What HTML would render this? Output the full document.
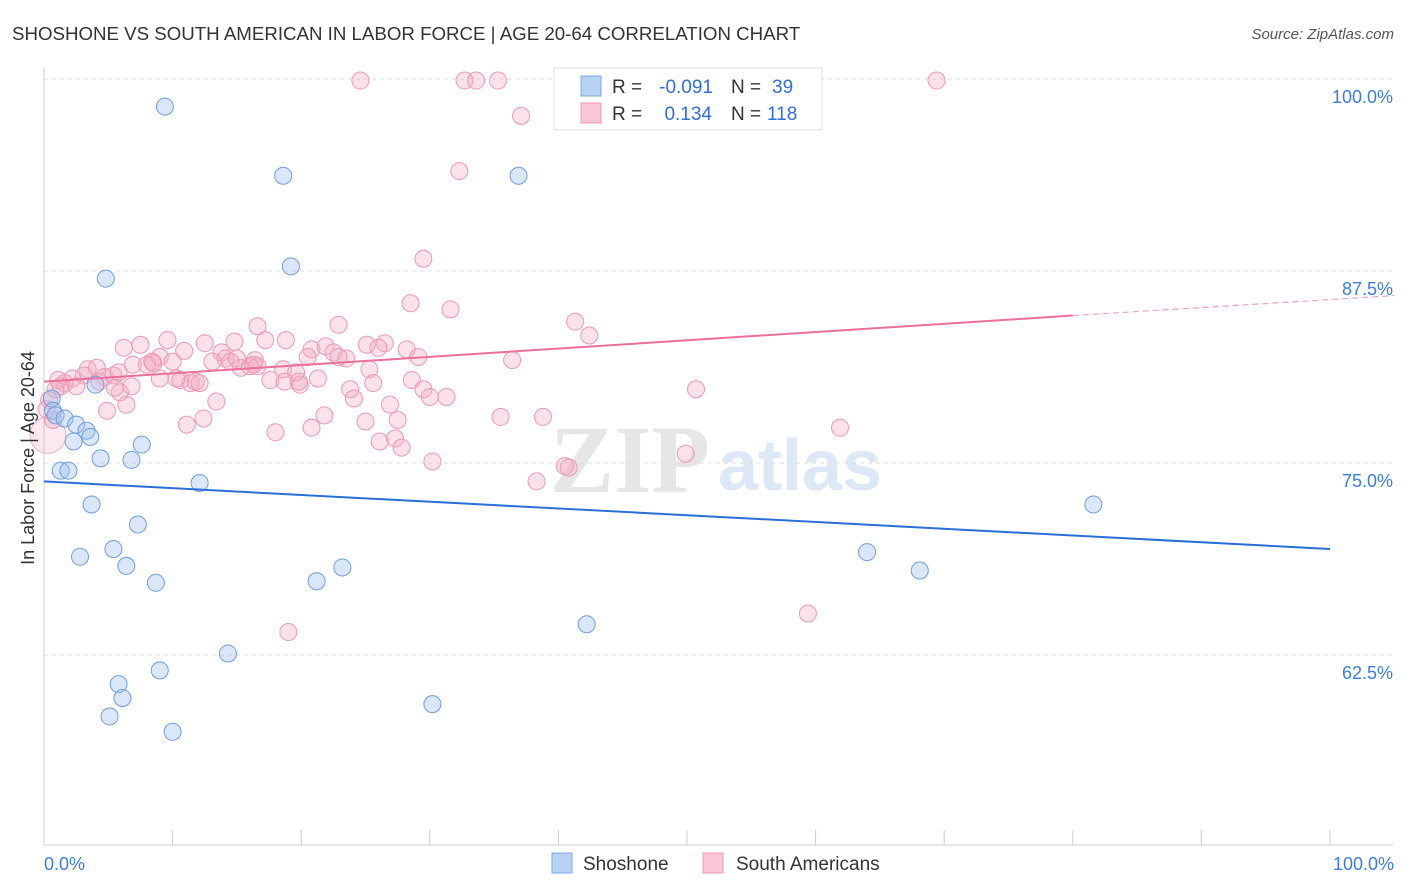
<!DOCTYPE html>
<html><head><meta charset="utf-8">
<style>
body{margin:0;background:#fff;font-family:"Liberation Sans",sans-serif;}
svg{display:block}
</style></head>
<body>
<svg width="1406" height="892" viewBox="0 0 1406 892">
<text x="12" y="40" font-size="18.7" fill="#333">SHOSHONE VS SOUTH AMERICAN IN LABOR FORCE | AGE 20-64 CORRELATION CHART</text>
<text x="1394" y="39" font-size="15" fill="#555" font-style="italic" text-anchor="end">Source: ZipAtlas.com</text>
<g>
<text x="550" y="492" font-size="96" font-family="Liberation Serif,serif" fill="#e6e6e6" font-weight="bold">ZIP</text>
<text x="718" y="490" font-size="72" fill="#dce8f6" font-weight="bold">atlas</text>
</g>
<g id="grid"></g>
<g id="axes"></g>
<g id="marks"></g>
<g id="lines"></g>
<text x="34" y="458" font-size="18" fill="#333" text-anchor="middle" transform="rotate(-90 34 458)">In Labor Force | Age 20-64</text>
<text x="44" y="870" font-size="18" fill="#3d7dd8">0.0%</text>
<text x="1394" y="870" font-size="18" fill="#3d7dd8" text-anchor="end">100.0%</text>
<g>
<rect x="554" y="68" width="268" height="62" fill="#fff" stroke="#ddd"/>
<rect x="581" y="76" width="20" height="20" fill="#b8d2f4" stroke="#7ea8e6"/>
<text x="612" y="93" font-size="19" fill="#333">R =</text>
<text x="713" y="93" font-size="19" fill="#2f6fd6" text-anchor="end">-0.091</text>
<text x="731" y="93" font-size="19" fill="#333">N =</text>
<text x="772" y="93" font-size="19" fill="#2f6fd6">39</text>
<rect x="581" y="103" width="20" height="20" fill="#f8c6d6" stroke="#ec9ab6"/>
<text x="612" y="120" font-size="19" fill="#333">R =</text>
<text x="712" y="120" font-size="19" fill="#2f6fd6" text-anchor="end">0.134</text>
<text x="731" y="120" font-size="19" fill="#333">N =</text>
<text x="767" y="120" font-size="19" fill="#2f6fd6">118</text>
</g>
<g>
<rect x="552" y="853" width="20" height="20" fill="#b8d2f4" stroke="#7ea8e6"/>
<text x="583" y="870" font-size="19" fill="#333">Shoshone</text>
<rect x="703" y="853" width="20" height="20" fill="#f8c6d6" stroke="#ec9ab6"/>
<text x="736" y="870" font-size="19" fill="#333">South Americans</text>
</g>
</svg>
<script>
const yTicks=[100,87.5,75,62.5];
const yTickLabels=["100.0%","87.5%","75.0%","62.5%"];
const xTicks=[0,10,20,30,40,50,60,70,80,90,100];
const blueX=[9.4,18.6,36.9,19.2,4.8,0.6,0.7,0.9,1.6,2.5,3.3,3.6,2.3,4.0,1.3,1.9,4.4,6.8,7.6,12.1,3.7,7.3,2.8,5.4,6.4,8.7,21.2,23.2,64.0,68.1,81.6,42.2,14.3,9.0,5.8,6.1,5.1,10.0,30.2];
const blueY=[98.2,93.7,93.7,87.8,87.0,79.2,78.4,78.1,77.9,77.5,77.1,76.7,76.4,80.1,74.5,74.5,75.3,75.2,76.2,73.7,72.3,71.0,68.9,69.4,68.3,67.2,67.3,68.2,69.2,68.0,72.3,64.5,62.6,61.5,60.6,59.7,58.5,57.5,59.3];
const pinkX=[24.6,32.7,33.6,35.3,69.4,37.1,32.3,29.5,28.5,31.6,41.3,42.4,22.9,16.6,18.8,9.6,6.2,7.5,12.5,14.8,17.2,20.8,21.9,22.5,23.5,25.1,26.5,26.0,28.2,29.1,36.4,13.8,14.1,10.9,9.0,8.4,8.0,16.4,16.6,15.3,16.0,14.5,18.6,17.6,18.7,19.9,21.3,19.6,20.5,25.3,25.6,23.8,24.1,28.6,29.5,30.0,31.3,26.9,21.8,27.5,25.0,20.8,18.0,11.1,12.4,13.4,6.4,4.9,26.1,27.3,27.8,35.5,38.8,50.7,61.9,30.2,38.3,40.5,40.8,49.9,59.4,19.0,4.1,3.4,3.1,2.2,1.6,1.3,1.1,0.9,0.4,0.2,2.5,4.7,4.3,5.4,5.8,6.8,6.9,8.5,10.0,10.6,11.4,11.8,12.1,10.3,9.0,0.7,5.9,5.5,13.1,15.0,16.3,22.9,19.8];
const pinkY=[99.9,99.9,99.9,99.9,99.9,97.6,94.0,88.3,85.4,85.0,84.2,83.3,84.0,83.9,83.0,83.0,82.5,82.7,82.8,82.9,83.0,82.4,82.6,82.2,81.8,82.7,82.8,82.5,82.4,81.9,81.7,82.2,81.8,82.3,81.9,81.6,81.4,81.7,81.3,81.2,81.3,81.6,81.1,80.4,80.3,80.1,80.5,80.9,81.9,81.1,80.2,79.8,79.2,80.4,79.8,79.3,79.3,78.8,78.1,77.8,77.7,77.3,77.0,77.5,77.9,79.0,78.8,78.4,76.4,76.6,76.0,78.0,78.0,79.8,77.3,75.1,73.8,74.8,74.7,75.6,65.2,64.0,81.2,81.1,80.7,80.5,80.2,80.0,80.4,79.8,79.1,78.5,80.0,80.6,80.3,80.7,80.9,80.0,81.4,81.5,81.6,80.4,80.2,80.3,80.2,80.5,80.5,77.8,79.6,79.9,81.6,81.8,81.4,81.9,80.3];
const pinkBigX=[0.3];
const pinkBigY=[76.8];
const blueTrendX=[0,100];
const blueTrendY=[73.8,69.4];
const pinkTrendX=[0,80,105];
const pinkTrendY=[80.3,84.6,85.9];

const X0=44,X1=1330,Y100=79,PX=192/12.5;
const sx=v=>X0+(X1-X0)*v/100;
const sy=v=>Y100+(100-v)*PX;
const NS="http://www.w3.org/2000/svg";
function mk(tag,parent,attrs){const e=document.createElementNS(NS,tag);for(const k in attrs)e.setAttribute(k,attrs[k]);document.getElementById(parent).appendChild(e);return e;}

yTicks.forEach((t,i)=>{
  const g=mk('line','grid',{x1:44,x2:1393,y1:sy(t),y2:sy(t),stroke:'#ddd','stroke-dasharray':'4 4'});
  
  
  const l=mk('text','grid',{x:1393,y:sy(t)+24,'font-size':18,fill:'#3d7dd8','text-anchor':'end'});
  l.textContent=yTickLabels[i];
  
  
});
const ya=mk('line','axes',{x1:44,x2:44,y1:68,y2:845,stroke:'#ccc'});


const xa=mk('line','axes',{x1:44,x2:1393,y1:845,y2:845,stroke:'#ccc'});


xTicks.forEach(t=>{
  const k=mk('line','axes',{x1:sx(t),x2:sx(t),y1:830,y2:845,stroke:'#ccc'});
  
  
});
pinkBigX.forEach((x,i)=>{
  const c=mk('circle','marks',{cx:sx(x),cy:sy(pinkBigY[i]),r:18,fill:'rgba(244,168,194,0.25)',stroke:'#f0b0c6','stroke-width':1});
  
  
});
pinkX.forEach((x,i)=>{
  const c=mk('circle','marks',{cx:sx(x),cy:sy(pinkY[i]),r:8.5,fill:'rgba(244,168,194,0.35)',stroke:'#ec9ab6','stroke-width':1});
  
  
});
blueX.forEach((x,i)=>{
  const c=mk('circle','marks',{cx:sx(x),cy:sy(blueY[i]),r:8.5,fill:'rgba(160,196,240,0.4)',stroke:'#6f9fe0','stroke-width':1});
  
  
});
const bl=mk('line','lines',{x1:sx(blueTrendX[0]),y1:sy(blueTrendY[0]),x2:sx(blueTrendX[1]),y2:sy(blueTrendY[1]),stroke:'#2a6fd6','stroke-width':2});


const pl=mk('line','lines',{x1:sx(pinkTrendX[0]),y1:sy(pinkTrendY[0]),x2:sx(pinkTrendX[1]),y2:sy(pinkTrendY[1]),stroke:'#e8709a','stroke-width':2});


const pd=mk('line','lines',{x1:sx(pinkTrendX[1]),y1:sy(pinkTrendY[1]),x2:sx(pinkTrendX[2]),y2:sy(pinkTrendY[2]),stroke:'#eea0bb','stroke-width':1.2,'stroke-dasharray':'6 4'});


</script>
</body></html>
